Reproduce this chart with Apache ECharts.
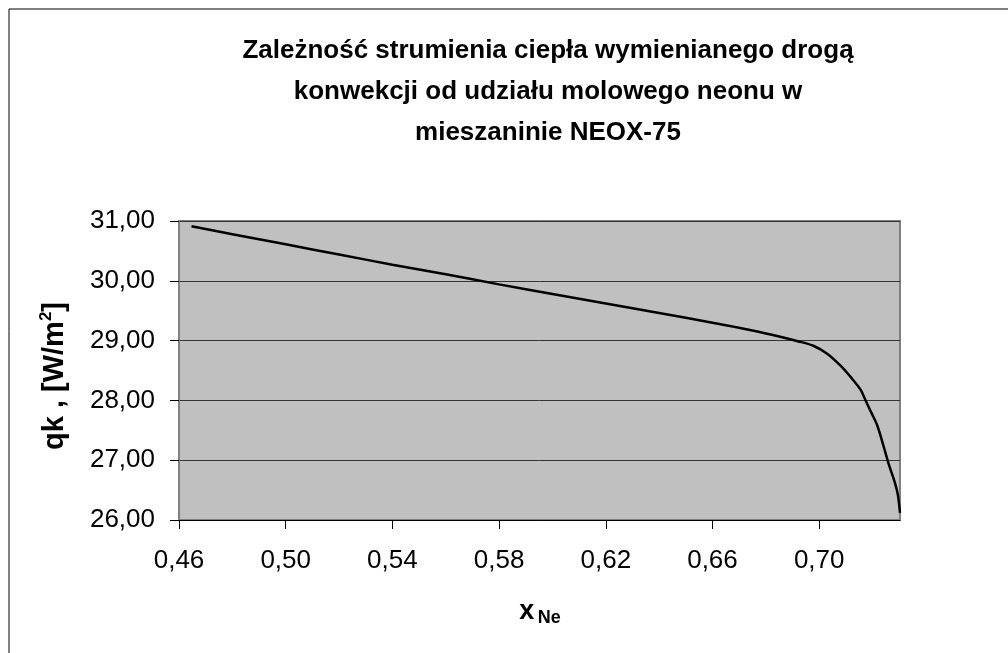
<!DOCTYPE html>
<html>
<head>
<meta charset="utf-8">
<script src="https://cdn.jsdelivr.net/npm/echarts@6/dist/echarts.min.js"></script>
<style>
html,body{margin:0;padding:0;background:#fff;}
#chart{width:1008px;height:653px;}
</style>
</head>
<body>
<div id="chart"></div>
<script>
// Data
var xNe = [0.4647, 0.48, 0.50, 0.52, 0.54, 0.56, 0.58, 0.60, 0.62, 0.64, 0.66, 0.675, 0.685, 0.692, 0.698, 0.703, 0.708, 0.712, 0.7155, 0.7175, 0.7195, 0.7216, 0.7234, 0.7259, 0.7284, 0.7295, 0.7303];
var qk = [30.912, 30.78, 30.61, 30.44, 30.27, 30.11, 29.94, 29.78, 29.62, 29.46, 29.30, 29.17, 29.07, 28.99, 28.91, 28.78, 28.58, 28.38, 28.18, 27.99, 27.80, 27.60, 27.35, 26.96, 26.62, 26.42, 26.12];
var xTicks = [0.46, 0.50, 0.54, 0.58, 0.62, 0.66, 0.70];
var xMin = 0.46, xMax = 0.7303;
var yMin = 26, yMax = 31, yStep = 1;
var titleText = 'Zależność strumienia ciepła wymienianego drogą\nkonwekcji od udziału molowego neonu w\nmieszaninie NEOX-75';

var FONT = "'Liberation Sans', Arial, Helvetica, sans-serif";
var pts = xNe.map(function (x, i) { return [x, qk[i]]; });
function fmt(v) { return v.toFixed(2).replace('.', ','); }

var chart = echarts.init(document.getElementById('chart'), null, {renderer: 'canvas'});
chart.setOption({
  animation: false,
  backgroundColor: '#ffffff',
  graphic: [
    {type: 'rect', shape: {x: 9, y: 9, width: 1100, height: 700}, style: {fill: null, stroke: '#000', lineWidth: 1}, z: 0},
    {type: 'text', x: 548, y: 30, z: 10,
      style: {text: titleText, font: 'bold 26px ' + FONT, fill: '#000', textAlign: 'center', textVerticalAlign: 'top', lineHeight: 41}},
    {type: 'text', x: 55, y: 376, rotation: Math.PI / 2, z: 10,
      style: {text: '{a|qk , [W/m}{s|2}{a|]}', textAlign: 'center', textVerticalAlign: 'middle', fill: '#000',
        rich: {
          a: {fontFamily: FONT, fontWeight: 'bold', fontSize: 29, lineHeight: 34, fill: '#000'},
          s: {fontFamily: FONT, fontWeight: 'bold', fontSize: 17, lineHeight: 17, verticalAlign: 'top', fill: '#000'}
        }}},
    {type: 'text', x: 540, y: 612, z: 10,
      style: {text: '{x|x} {s|Ne}', textAlign: 'center', textVerticalAlign: 'middle', fill: '#000',
        rich: {
          x: {fontFamily: FONT, fontWeight: 'bold', fontSize: 27, lineHeight: 30, fill: '#000'},
          s: {fontFamily: FONT, fontWeight: 'bold', fontSize: 18, lineHeight: 18, verticalAlign: 'bottom', fill: '#000'}
        }}}
  ],
  grid: {left: 179, top: 221, width: 721, height: 299, containLabel: false, outerBoundsMode: 'none',
    show: true, backgroundColor: '#c0c0c0', borderColor: '#808080', borderWidth: 2},
  xAxis: {
    type: 'value', min: xMin, max: xMax, interval: 0.04,
    axisLine: {show: true, onZero: false, lineStyle: {color: '#000', width: 1}},
    axisTick: {show: true, length: 9, inside: false, lineStyle: {color: '#000'}, customValues: xTicks},
    axisLabel: {show: true, margin: 28, fontFamily: FONT, fontSize: 26, color: '#000', customValues: xTicks, formatter: fmt},
    splitLine: {show: false}
  },
  yAxis: {
    type: 'value', min: yMin, max: yMax, interval: yStep,
    axisLine: {show: true, lineStyle: {color: '#808080', width: 2}},
    axisTick: {show: true, length: 9, inside: false, lineStyle: {color: '#000'}},
    axisLabel: {show: true, margin: 24, fontFamily: FONT, fontSize: 26, color: '#000', formatter: fmt},
    splitLine: {show: true, lineStyle: {color: '#333', width: 1}}
  },
  series: [{
    type: 'line', data: pts, smooth: 0.3, showSymbol: false, symbol: 'none',
    lineStyle: {color: '#000', width: 2.5}, clip: true
  }]
});
</script>
</body>
</html>
